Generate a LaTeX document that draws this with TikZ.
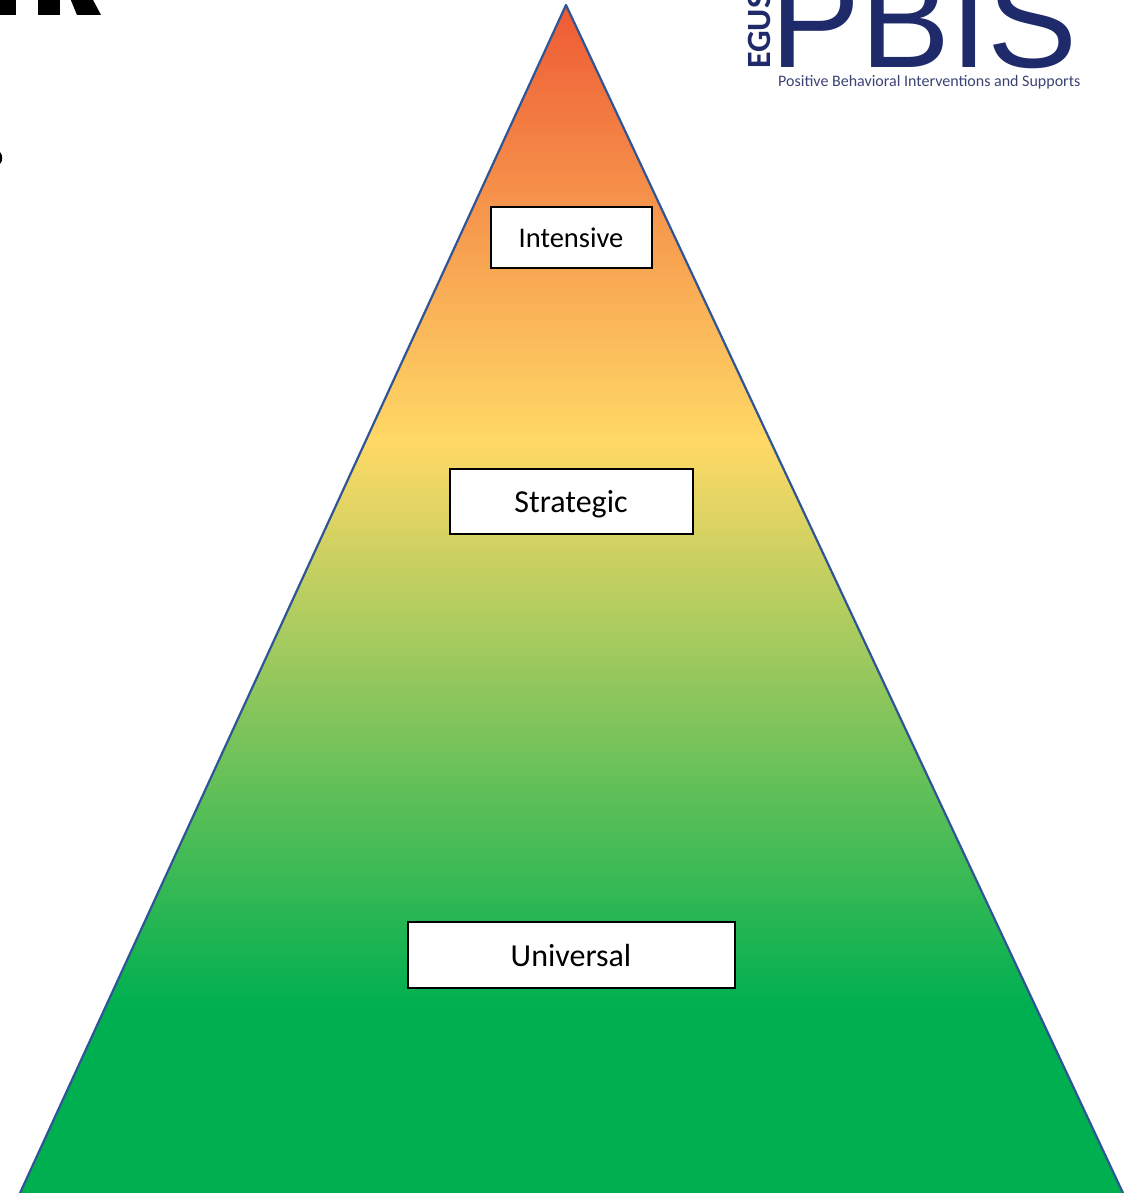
\documentclass[tikz,border=0pt]{standalone}
\usepackage{fontspec}
\setmainfont{Carlito}
\newfontfamily\logofont{Liberation Sans}
\definecolor{pyramidred}{HTML}{EE5A35}
\definecolor{pyramidyellow}{HTML}{FFD966}
\definecolor{pyramidgreen}{HTML}{00B050}
\definecolor{pyramidedge}{HTML}{2F5597}
\definecolor{logonavy}{HTML}{1F2A6B}
\definecolor{taglinenavy}{HTML}{3A4272}
\pgfdeclareverticalshading{pyramidfade}{100bp}{
  color(0bp)=(pyramidgreen); color(33bp)=(pyramidgreen);
  color(56.6bp)=(pyramidyellow); color(75bp)=(pyramidred); color(100bp)=(pyramidred)}
\tikzset{
  tierbox/.style={draw=black, line width=1.6pt, fill=white, inner sep=0pt, align=center},
  logotext/.style={text=logonavy, inner sep=0pt}
}
\begin{document}
\begin{tikzpicture}[x=1pt, y=-1pt]
    \useasboundingbox (0,0) rectangle (1133,1193);
    \clip (0,0) rectangle (1133,1193);

    % 1. TITLE FRAGMENTS (top left)
    \fill[black] (0,-2) rectangle (16,15);
    \fill[black] (38,-2) rectangle (60,15);
    \fill[black] (70,-2) -- (92,-2) -- (101,15) -- (77,15) -- cycle;
    \fill[black] (0,152) .. controls (3,155) and (3,161) .. (0,164) -- cycle;

    % 2. PYRAMID
    \coordinate (apex) at (566,5);
    \coordinate (baseleft) at (20,1193);
    \coordinate (baseright) at (1123,1193);
    \shade[shading=pyramidfade] (apex) -- (baseright) -- (baseleft) -- cycle;
    \draw[pyramidedge, line width=2.2pt, line join=round] (baseleft) -- (apex) -- (baseright);

    % 3. TIERS
    \node[tierbox, minimum width=161pt, minimum height=61pt] (intensive) at (571.5,237.5) {};
    \node[anchor=base, inner sep=0pt, font=\fontsize{28.5}{32}\selectfont] (intensivetext) at (571,247) {Intensive};
    \node[tierbox, minimum width=243pt, minimum height=65pt] (strategic) at (571.5,501.5) {};
    \node[anchor=base, inner sep=0pt, font=\fontsize{32}{36}\selectfont] (strategictext) at (571,512) {Strategic};
    \node[tierbox, minimum width=327pt, minimum height=66pt] (universal) at (571.5,955) {};
    \node[anchor=base, inner sep=0pt, font=\fontsize{32}{36}\selectfont] (universaltext) at (571,966) {Universal};

    % 4. LOGO (top right)
    \node[logotext, anchor=base west, font=\logofont\fontsize{135}{135}\selectfont] (pbis) at (770,68) {PBIS};
    \node[logotext, anchor=base west, rotate=90, font=\bfseries\fontsize{34}{34}\selectfont] (egus) at (770,69) {EGUS};
    \node[text=taglinenavy, inner sep=0pt, anchor=base west, font=\fontsize{16}{17}\selectfont] (tagline) at (778,87) {Positive Behavioral Interventions and Supports};
\end{tikzpicture}
\end{document}
